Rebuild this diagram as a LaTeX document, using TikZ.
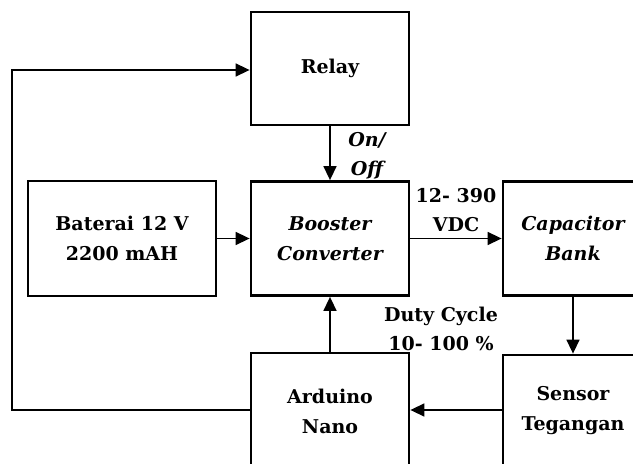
\documentclass[tikz,border=0pt]{standalone}
\usepackage{fontspec}
\setmainfont{DejaVu Serif}
\usetikzlibrary{arrows.meta}
\tikzset{
  blk/.style={draw, line width=2.8pt, align=center, inner sep=0pt,
    font=\fontsize{19}{30}\selectfont\bfseries},
  lbl/.style={align=center, inner sep=0pt, font=\fontsize{19}{29}\selectfont\bfseries},
  conn/.style={line width=1.5pt, -{Triangle[length=14pt,width=13pt]}},
  plain/.style={line width=1.5pt}
}
\begin{document}
\begin{tikzpicture}[x=1pt,y=1pt]
\clip (0,0) rectangle (633,464);
\fill[white] (0,0) rectangle (633,464);
\node[blk, minimum width=158pt, minimum height=113pt] (relay) at (330,395.5) {Relay};
\node[blk, minimum width=188pt, minimum height=115pt] (bat) at (122,225.5) {Baterai 12 V\\2200 mAH};
\node[blk, minimum width=158pt, minimum height=114pt] (boost) at (330,225.5) {\itshape Booster\\\itshape Converter};
\node[blk, minimum width=140pt, minimum height=114pt] (cap) at (573,225.5) {\itshape Capacitor\\\itshape Bank};
\node[blk, minimum width=158pt, minimum height=116pt] (ard) at (330,53) {Arduino\\Nano};
\node[blk, minimum width=140pt, minimum height=112pt] (sens) at (573,53) {Sensor\\Tegangan};
\node[lbl] (onoff) at (367,308) {\itshape On/\\\itshape Off};
\node[lbl] (vdc) at (456,254) {12- 390\\VDC};
\node[lbl] (duty) at (441,135) {Duty Cycle\\10- 100 \%};
\coordinate (lb) at (12,54);
\coordinate (lt) at (12,394);
\draw[conn] (relay.south) -- (boost.north);
\draw[conn] (bat.east) -- (boost.west);
\draw[conn] (boost.east) -- (cap.west);
\draw[conn] (cap.south) -- (sens.north);
\draw[conn] (sens.west |- lb) -- (ard.east |- lb);
\draw[conn] (ard.north) -- (boost.south);
\draw[conn] (ard.west |- lb) -- (lb) -- (lt) -- (relay.west |- lt);
\end{tikzpicture}
\end{document}
